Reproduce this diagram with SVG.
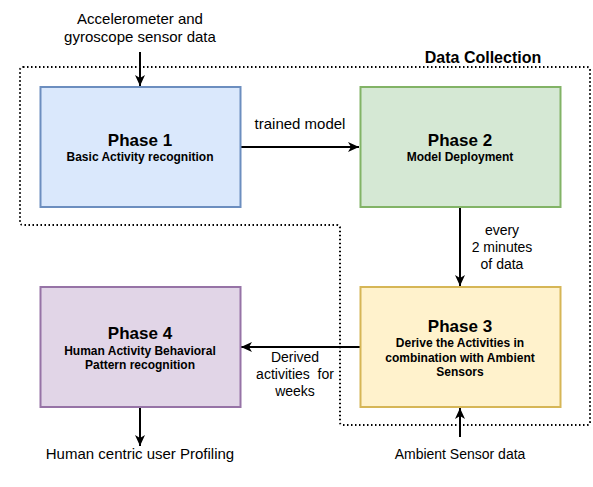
<svg xmlns="http://www.w3.org/2000/svg" width="593" height="487" viewBox="0 0 593 487">
<style>
text{font-family:"Liberation Sans",Arial,sans-serif;fill:#000;text-anchor:middle}
.lbl{font-size:15px}
.sm{font-size:14px}
.ttl{font-size:17px;font-weight:bold}
.sub{font-size:12px;font-weight:bold}
.edge{stroke:#000;stroke-width:2;fill:none}
</style>
<defs>
<marker id="a" viewBox="0 0 12 12" refX="11" refY="6" markerWidth="12" markerHeight="12" orient="auto" markerUnits="userSpaceOnUse">
<path d="M0,1 L11,6 L0,11 L3,6 Z" fill="#000"/>
</marker>
</defs>
<g id="data-collection">
<path d="M23,67 L587,67 Q590,67 590,70 L590,422 Q590,425 587,425 L343,425 Q340,425 340,422 L340,228 Q340,225 337,225 L23,225 Q20,225 20,222 L20,70 Q20,67 23,67 Z" fill="none" stroke="#000" stroke-width="2" stroke-dasharray="1.5 2.5"/>
<text x="483" y="63" style="font-size:16px;font-weight:bold">Data Collection</text>
</g>
<g id="connectors">
<path class="edge" d="M140,52 L140,86" marker-end="url(#a)"/>
<path class="edge" d="M241,147 L359,147" marker-end="url(#a)"/>
<path class="edge" d="M460,207 L460,286" marker-end="url(#a)"/>
<path class="edge" d="M360,347 L241,347" marker-end="url(#a)"/>
<path class="edge" d="M140,407 L140,446" marker-end="url(#a)"/>
<path class="edge" d="M460,437 L460,408" marker-end="url(#a)"/>
<text class="lbl" x="140" y="24">Accelerometer and</text>
<text class="lbl" x="140" y="42">gyroscope sensor data</text>
<text class="lbl" x="300" y="129">trained model</text>
<text class="sm" x="502" y="235">every</text>
<text class="sm" x="502" y="252">2 minutes</text>
<text class="sm" x="502" y="269">of data</text>
<text class="sm" x="295" y="362">Derived</text>
<text class="sm" x="295" y="379" xml:space="preserve">activities  for</text>
<text class="sm" x="295" y="396">weeks</text>
<text class="lbl" x="140" y="459">Human centric user Profiling</text>
<text class="sm" x="460" y="459">Ambient Sensor data</text>
</g>
<g id="phase1">
<rect x="40.5" y="87" width="200" height="120" fill="#dae8fc" stroke="#6c8ebf" stroke-width="2"/>
<text class="ttl" x="140" y="146">Phase 1</text>
<text class="sub" x="140" y="161">Basic Activity recognition</text>
</g>
<g id="phase2">
<rect x="360.5" y="87" width="200" height="120" fill="#d5e8d4" stroke="#82b366" stroke-width="2"/>
<text class="ttl" x="460" y="146">Phase 2</text>
<text class="sub" x="460" y="161">Model Deployment</text>
</g>
<g id="phase3">
<rect x="360.5" y="287" width="200" height="120" fill="#fff2cc" stroke="#d6b656" stroke-width="2"/>
<text class="ttl" x="460" y="332">Phase 3</text>
<text class="sub" x="460" y="347">Derive the Activities in</text>
<text class="sub" x="460" y="362">combination with Ambient</text>
<text class="sub" x="460" y="376">Sensors</text>
</g>
<g id="phase4">
<rect x="40.5" y="287" width="200" height="120" fill="#e1d5e7" stroke="#9673a6" stroke-width="2"/>
<text class="ttl" x="140" y="339">Phase 4</text>
<text class="sub" x="140" y="355">Human Activity Behavioral</text>
<text class="sub" x="140" y="369">Pattern recognition</text>
</g>
</svg>
